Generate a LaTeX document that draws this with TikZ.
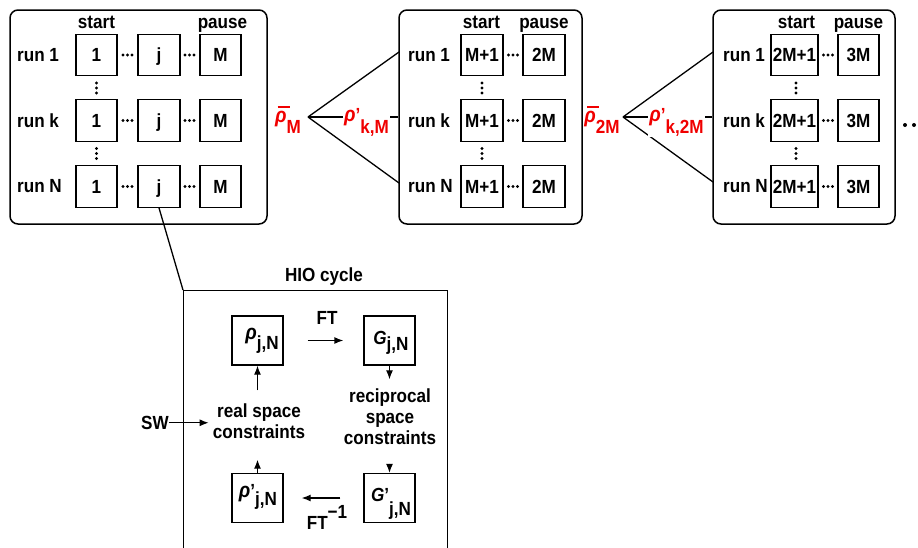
\documentclass[tikz,border=0pt]{standalone}
\usepackage{fontspec}
\setmainfont{Liberation Sans}[FakeStretch=0.9]
\usetikzlibrary{arrows.meta,calc}
\definecolor{lblred}{RGB}{240,0,0}
\newcommand{\rh}{\textit{\fontsize{21}{21}\selectfont ρ}}
\newcommand{\rhobar}{\rlap{\hspace{2.5pt}\rule[14pt]{12pt}{1.8pt}}\rh}
\newcommand{\mydotsh}[2]{\fill (#1-4.5,#2) circle (1.6pt) (#1,#2) circle (1.6pt) (#1+4.5,#2) circle (1.6pt);}
\newcommand{\mydotsv}[2]{\fill (#1,#2-5) circle (1.6pt) (#1,#2) circle (1.6pt) (#1,#2+5) circle (1.6pt);}
\begin{document}
\begin{tikzpicture}[x=1pt,y=-1pt,
  every node/.style={font=\bfseries\fontsize{19}{21}\selectfont, inner sep=0pt},
  outerbox/.style={draw, line width=1.5pt, rounded corners=8pt},
  cell/.style={draw, line width=1.3pt, minimum height=41.5pt, text height=13.5pt, text depth=0pt},
  hcell/.style={draw, line width=1.3pt, minimum width=51pt, minimum height=49pt},
  conn/.style={line width=1.3pt},
  arr/.style={line width=1.3pt, -{Latex[length=9pt,width=7pt]}},
  redlbl/.style={text=lblred},
]
\useasboundingbox (0,0) rectangle (918,547);

% ---------- outer boxes ----------
\node[outerbox, minimum width=257pt, minimum height=214pt] (B1) at (138.5,117) {};
\node[outerbox, minimum width=183pt, minimum height=214pt] (B2) at (490.5,117) {};
\node[outerbox, minimum width=182pt, minimum height=214pt] (B3) at (804,117) {};

% ---------- box 1 ----------
\node[anchor=base] (s1) at (96.5,28) {start};
\node[anchor=base] (p1) at (222.5,28) {pause};
\node[anchor=west] (r11) at (17,55) {run 1};
\node[anchor=west] (r1k) at (17,120.5) {run k};
\node[anchor=west] (r1N) at (17,186.5) {run N};
\node[cell, minimum width=41pt] (a11) at (96.5,55) {1};
\node[cell, minimum width=42pt] (a12) at (159,55) {j};
\node[cell, minimum width=41pt] (a13) at (220.5,55) {M};
\node[cell, minimum width=41pt] (a21) at (96.5,120.5) {1};
\node[cell, minimum width=42pt] (a22) at (159,120.5) {j};
\node[cell, minimum width=41pt] (a23) at (220.5,120.5) {M};
\node[cell, minimum width=41pt] (a31) at (96.5,186.5) {1};
\node[cell, minimum width=42pt] (a32) at (159,186.5) {j};
\node[cell, minimum width=41pt] (a33) at (220.5,186.5) {M};
\mydotsh{127.5}{55} \mydotsh{189.5}{55}
\mydotsh{127.5}{120.5} \mydotsh{189.5}{120.5}
\mydotsh{127.5}{186.5} \mydotsh{189.5}{186.5}
\mydotsv{96.5}{88} \mydotsv{96.5}{153.5}

% ---------- box 2 ----------
\node[anchor=base] (s2) at (481.5,28) {start};
\node[anchor=base] (p2) at (544,28) {pause};
\node[anchor=west] (r21) at (408,55) {run 1};
\node[anchor=west] (r2k) at (408,120.5) {run k};
\node[anchor=west] (r2N) at (408,186.5) {run N};
\node[cell, minimum width=42pt] (b11) at (482,55) {M+1};
\node[cell, minimum width=42pt] (b12) at (544,55) {2M};
\node[cell, minimum width=42pt] (b21) at (482,120.5) {M+1};
\node[cell, minimum width=42pt] (b22) at (544,120.5) {2M};
\node[cell, minimum width=42pt] (b31) at (482,186.5) {M+1};
\node[cell, minimum width=42pt] (b32) at (544,186.5) {2M};
\mydotsh{513}{55} \mydotsh{513}{120.5} \mydotsh{513}{186.5}
\mydotsv{482}{88} \mydotsv{482}{153.5}

% ---------- box 3 ----------
\node[anchor=base] (s3) at (796.5,28) {start};
\node[anchor=base] (p3) at (858.5,28) {pause};
\node[anchor=west] (r31) at (723,55) {run 1};
\node[anchor=west] (r3k) at (723,120.5) {run k};
\node[anchor=west] (r3N) at (723,186.5) {run N};
\node[cell, minimum width=47pt] (c11) at (794.5,55) {2M+1};
\node[cell, minimum width=41pt] (c12) at (858.5,55) {3M};
\node[cell, minimum width=47pt] (c21) at (794.5,120.5) {2M+1};
\node[cell, minimum width=41pt] (c22) at (858.5,120.5) {3M};
\node[cell, minimum width=47pt] (c31) at (794.5,186.5) {2M+1};
\node[cell, minimum width=41pt] (c32) at (858.5,186.5) {3M};
\mydotsh{828}{55} \mydotsh{828}{120.5} \mydotsh{828}{186.5}
\mydotsv{796}{88} \mydotsv{796}{153.5}

\fill (905,125) circle (2pt) (914,125) circle (2pt) (923,125) circle (2pt);

% ---------- fans ----------
\coordinate (ap1) at (308,117);
\coordinate (b2u) at (399,52);
\coordinate (b2d) at (399,183);
\coordinate (ap2) at (623,117);
\coordinate (b3u) at (713,52);
\coordinate (b3d) at (713,182);
\draw[conn] (ap1) -- (b2u);
\draw[conn] (ap1) -- (b2d);
\draw[conn] (ap1) -- (B2.west);
\draw[conn] (ap2) -- (b3u);
\draw[conn] (ap2) -- (b3d);
\draw[conn] (ap2) -- (B3.west);

\node[redlbl, anchor=base] (rbM) at (288,122) {\rhobar\raisebox{-11pt}{M}};
\node[redlbl, anchor=base, fill=white, inner sep=1.5pt] (rpkM) at (366.5,121) {\rh’\raisebox{-12pt}{k,M}};
\node[redlbl, anchor=base] (rb2M) at (602,122) {\rhobar\raisebox{-11pt}{2M}};
\node[redlbl, anchor=base, fill=white, inner sep=1.5pt] (rpk2M) at (676.5,121) {\rh’\raisebox{-12pt}{k,2M}};

% ---------- HIO cycle ----------
\node[draw, line width=1.3pt, minimum width=264pt, minimum height=300pt, anchor=north west] (hio) at (183,290) {};
\draw[conn] (a32.south) -- (hio.north west);
\node[anchor=base] (hiot) at (324,281) {HIO cycle};

\node[hcell] (rho) at (257.5,340.5) {};
\node[hcell] (G) at (389.5,340.5) {};
\node[hcell] (rhop) at (257.5,498) {};
\node[hcell] (Gp) at (389.5,498) {};
\node[anchor=base] (rhot) at (262,339.5) {\rh\raisebox{-10pt}{j,N}};
\node[anchor=base] (Gt) at (391,344) {\textit{G}\raisebox{-6pt}{j,N}};
\node[anchor=base] (rhopt) at (258,497) {\rh’\raisebox{-8.5pt}{j,N}};
\node[anchor=base] (Gpt) at (391,501) {\textit{G}’\raisebox{-14pt}{j,N}};

\node[anchor=base] (ft) at (327,324) {FT};
\node[anchor=base] (fti) at (327,529) {FT\raisebox{11pt}{−1}};
\node[align=center, inner ysep=14pt] (rec) at (390,416.5) {reciprocal\\space\\constraints};
\node[align=center, inner ysep=18pt, inner xsep=4pt] (rsc) at (259,421) {real space\\constraints};
\node[anchor=base] (sw) at (155,429.3) {SW};

\draw[arr, shorten <=24pt, shorten >=20pt] (rho) -- (G);
\draw[arr, shorten >=-5pt] (G.south) -- (G.south |- rec.north);
\draw[arr, shorten <=5pt] (Gp.north |- rec.south) -- (Gp.north);
\draw[arr, shorten <=23pt, shorten >=18pt] (Gp) -- (rhop);
\draw[arr, shorten >=3pt] (rhop.north) -- (rhop.north |- rsc.south);
\draw[arr, shorten <=-5pt] (rho.south |- rsc.north) -- (rho.south);
\draw[arr] (sw.east) -- (sw.east -| rsc.west);
\end{tikzpicture}
\end{document}
